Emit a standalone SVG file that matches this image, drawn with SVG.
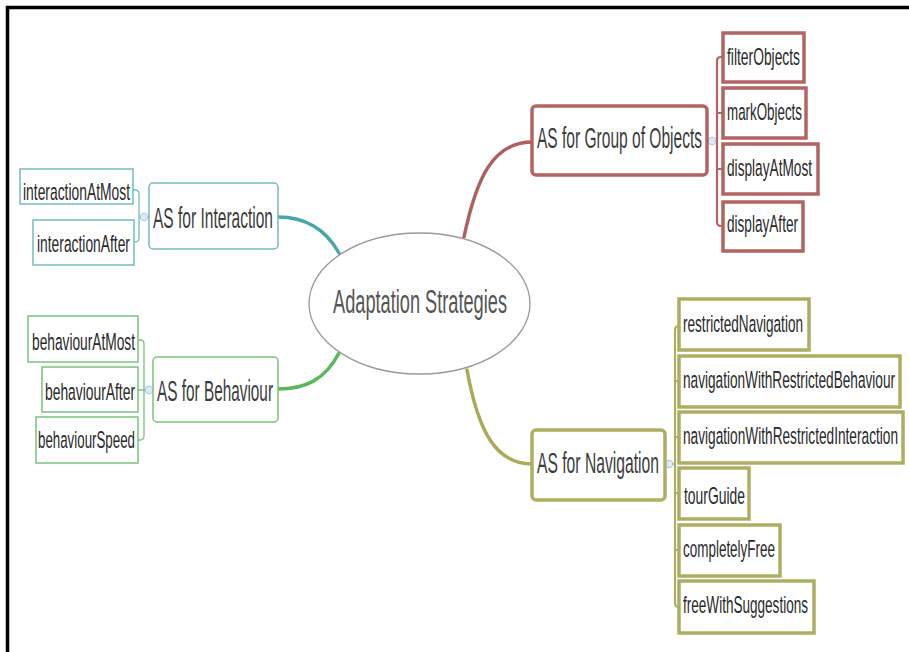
<svg xmlns="http://www.w3.org/2000/svg" width="909" height="652" viewBox="0 0 909 652">
  <style>
    text { font-family: "Liberation Sans", "Open Sans", Arial, sans-serif; fill: #2a2a2a; }
    .center { font-size: 34px; fill: #555; }
    .main { font-size: 29px; fill: #3c3c3c; }
    .leaf { font-size: 23.5px; }
    .red { stroke: #b36462; fill: #fff; stroke-width: 3.5; }
    .teal { stroke: #74bcbc; fill: #fff; stroke-width: 1.5; }
    .green { stroke: #79c379; fill: #fff; stroke-width: 1.5; }
    .olive { stroke: #aeae62; fill: #fff; stroke-width: 3.5; }
    .link { fill: none; stroke-linecap: round; }
    .knob { fill: #dfe9f8; stroke: #a9c1e6; stroke-width: 1; }
  </style>

  <!-- frame -->
  <g id="frame" fill="none" stroke="#000" stroke-width="3.5">
    <path d="M7.5 652 V7.5 H909"/>
  </g>

  <!-- connectors -->
  <g id="connectors" class="link">
    <!-- main branches -->
    <path d="M464 237 C476 180 492 142 532 142" stroke="#b06060" stroke-width="3.5"/>
    <path d="M278 217 C305 217 325 228 339 253" stroke="#4aa6a6" stroke-width="3.5"/>
    <path d="M278 389 C305 389 325 380 339 353" stroke="#5cb75c" stroke-width="3.5"/>
    <path d="M467 370 C478 430 495 464 532 464" stroke="#aaaa5a" stroke-width="3.5"/>

    <!-- group of objects children -->
    <g stroke="#b36462" stroke-width="2.2">
      <path d="M707 141 H713"/>
      <path d="M723 57 H721 Q717 57 717 61 V222 Q717 226 721 226 H723"/>
      <path d="M717 113 H723"/>
      <path d="M717 169 H723"/>
    </g>
    <!-- interaction children -->
    <g stroke="#74bcbc" stroke-width="1.3">
      <path d="M149 217 H140"/>
      <path d="M133 190 H135 Q139 190 139 194 V238 Q139 242 135 242 H134"/>
    </g>
    <!-- behaviour children -->
    <g stroke="#79c379" stroke-width="1.3">
      <path d="M153 390 H138"/>
      <path d="M138 340 H140 Q144 340 144 344 V436 Q144 440 140 440 H138"/>
    </g>
    <!-- navigation children -->
    <g stroke="#aeae62" stroke-width="2.2">
      <path d="M665 464 H675"/>
      <path d="M679 326 H679 Q675 326 675 330 V603 Q675 607 679 607"/>
      <path d="M675 381 H679"/>
      <path d="M675 437 H679"/>
      <path d="M675 493 H679"/>
      <path d="M675 550 H679"/>
    </g>

    <!-- collapse knobs -->
    <circle class="knob" cx="712" cy="141" r="3.8"/>
    <circle class="knob" cx="144" cy="217" r="3.8"/>
    <circle class="knob" cx="149" cy="390" r="3.8"/>
    <circle class="knob" cx="669" cy="464" r="3.8"/>
  </g>

  <!-- central topic -->
  <g id="adaptation-strategies">
    <ellipse cx="419.5" cy="303.5" rx="110.5" ry="70.5" fill="#fff" stroke="#999" stroke-width="1.3"/>
    <text class="center" transform="translate(333 313) scale(0.5 1)" textLength="348" lengthAdjust="spacingAndGlyphs">Adaptation Strategies</text>
  </g>

  <!-- AS for Group of Objects -->
  <g id="as-group-of-objects">
    <rect class="red" x="532" y="106" width="175" height="69" rx="4"/>
    <text class="main" transform="translate(537 148) scale(0.55 1)" textLength="300" lengthAdjust="spacingAndGlyphs">AS for Group of Objects</text>
  </g>
  <g id="filterObjects">
    <rect class="red" x="723" y="33" width="81" height="49"/>
    <text class="leaf" transform="translate(727 65) scale(0.58 1)" textLength="125.9" lengthAdjust="spacingAndGlyphs">filterObjects</text>
  </g>
  <g id="markObjects">
    <rect class="red" x="723" y="88" width="83" height="50"/>
    <text class="leaf" transform="translate(727 120) scale(0.58 1)" textLength="129.3" lengthAdjust="spacingAndGlyphs">markObjects</text>
  </g>
  <g id="displayAtMost">
    <rect class="red" x="723" y="144" width="95" height="50"/>
    <text class="leaf" transform="translate(727 176) scale(0.58 1)" textLength="146.6" lengthAdjust="spacingAndGlyphs">displayAtMost</text>
  </g>
  <g id="displayAfter">
    <rect class="red" x="723" y="202" width="80" height="49"/>
    <text class="leaf" transform="translate(727 232) scale(0.58 1)" textLength="122.4" lengthAdjust="spacingAndGlyphs">displayAfter</text>
  </g>

  <!-- AS for Interaction -->
  <g id="as-interaction">
    <rect class="teal" x="149" y="183" width="129" height="66" rx="4"/>
    <text class="main" transform="translate(153 228) scale(0.55 1)" textLength="218.2" lengthAdjust="spacingAndGlyphs">AS for Interaction</text>
  </g>
  <g id="interactionAtMost">
    <rect class="teal" x="20" y="169" width="113" height="35"/>
    <text class="leaf" transform="translate(23 200) scale(0.58 1)" textLength="184.5" lengthAdjust="spacingAndGlyphs">interactionAtMost</text>
  </g>
  <g id="interactionAfter">
    <rect class="teal" x="33" y="220" width="101" height="45"/>
    <text class="leaf" transform="translate(37 252) scale(0.58 1)" textLength="160.3" lengthAdjust="spacingAndGlyphs">interactionAfter</text>
  </g>

  <!-- AS for Behaviour -->
  <g id="as-behaviour">
    <rect class="green" x="153" y="357" width="125" height="65" rx="4"/>
    <text class="main" transform="translate(157 401) scale(0.55 1)" textLength="210.9" lengthAdjust="spacingAndGlyphs">AS for Behaviour</text>
  </g>
  <g id="behaviourAtMost">
    <rect class="green" x="28" y="316" width="110" height="46"/>
    <text class="leaf" transform="translate(32 350) scale(0.58 1)" textLength="177.6" lengthAdjust="spacingAndGlyphs">behaviourAtMost</text>
  </g>
  <g id="behaviourAfter">
    <rect class="green" x="42" y="367" width="96" height="45"/>
    <text class="leaf" transform="translate(45 400) scale(0.58 1)" textLength="155.2" lengthAdjust="spacingAndGlyphs">behaviourAfter</text>
  </g>
  <g id="behaviourSpeed">
    <rect class="green" x="36" y="417" width="102" height="46"/>
    <text class="leaf" transform="translate(38 448) scale(0.58 1)" textLength="167.2" lengthAdjust="spacingAndGlyphs">behaviourSpeed</text>
  </g>

  <!-- AS for Navigation -->
  <g id="as-navigation">
    <rect class="olive" x="532" y="430" width="133" height="70" rx="4"/>
    <text class="main" transform="translate(537 473) scale(0.55 1)" textLength="221.8" lengthAdjust="spacingAndGlyphs">AS for Navigation</text>
  </g>
  <g id="restrictedNavigation">
    <rect class="olive" x="679" y="299" width="130" height="51"/>
    <text class="leaf" transform="translate(683 332) scale(0.58 1)" textLength="206.9" lengthAdjust="spacingAndGlyphs">restrictedNavigation</text>
  </g>
  <g id="navigationWithRestrictedBehaviour">
    <rect class="olive" x="679" y="356" width="221" height="51"/>
    <text class="leaf" transform="translate(683 388) scale(0.58 1)" textLength="365.5" lengthAdjust="spacingAndGlyphs">navigationWithRestrictedBehaviour</text>
  </g>
  <g id="navigationWithRestrictedInteraction">
    <rect class="olive" x="679" y="412" width="224" height="51"/>
    <text class="leaf" transform="translate(683 444) scale(0.58 1)" textLength="370.7" lengthAdjust="spacingAndGlyphs">navigationWithRestrictedInteraction</text>
  </g>
  <g id="tourGuide">
    <rect class="olive" x="679" y="468" width="70" height="51"/>
    <text class="leaf" transform="translate(684 504) scale(0.58 1)" textLength="105.2" lengthAdjust="spacingAndGlyphs">tourGuide</text>
  </g>
  <g id="completelyFree">
    <rect class="olive" x="679" y="525" width="101" height="51"/>
    <text class="leaf" transform="translate(683 557) scale(0.58 1)" textLength="158.6" lengthAdjust="spacingAndGlyphs">completelyFree</text>
  </g>
  <g id="freeWithSuggestions">
    <rect class="olive" x="679" y="581" width="135" height="52"/>
    <text class="leaf" transform="translate(683 613) scale(0.58 1)" textLength="215.5" lengthAdjust="spacingAndGlyphs">freeWithSuggestions</text>
  </g>
</svg>
